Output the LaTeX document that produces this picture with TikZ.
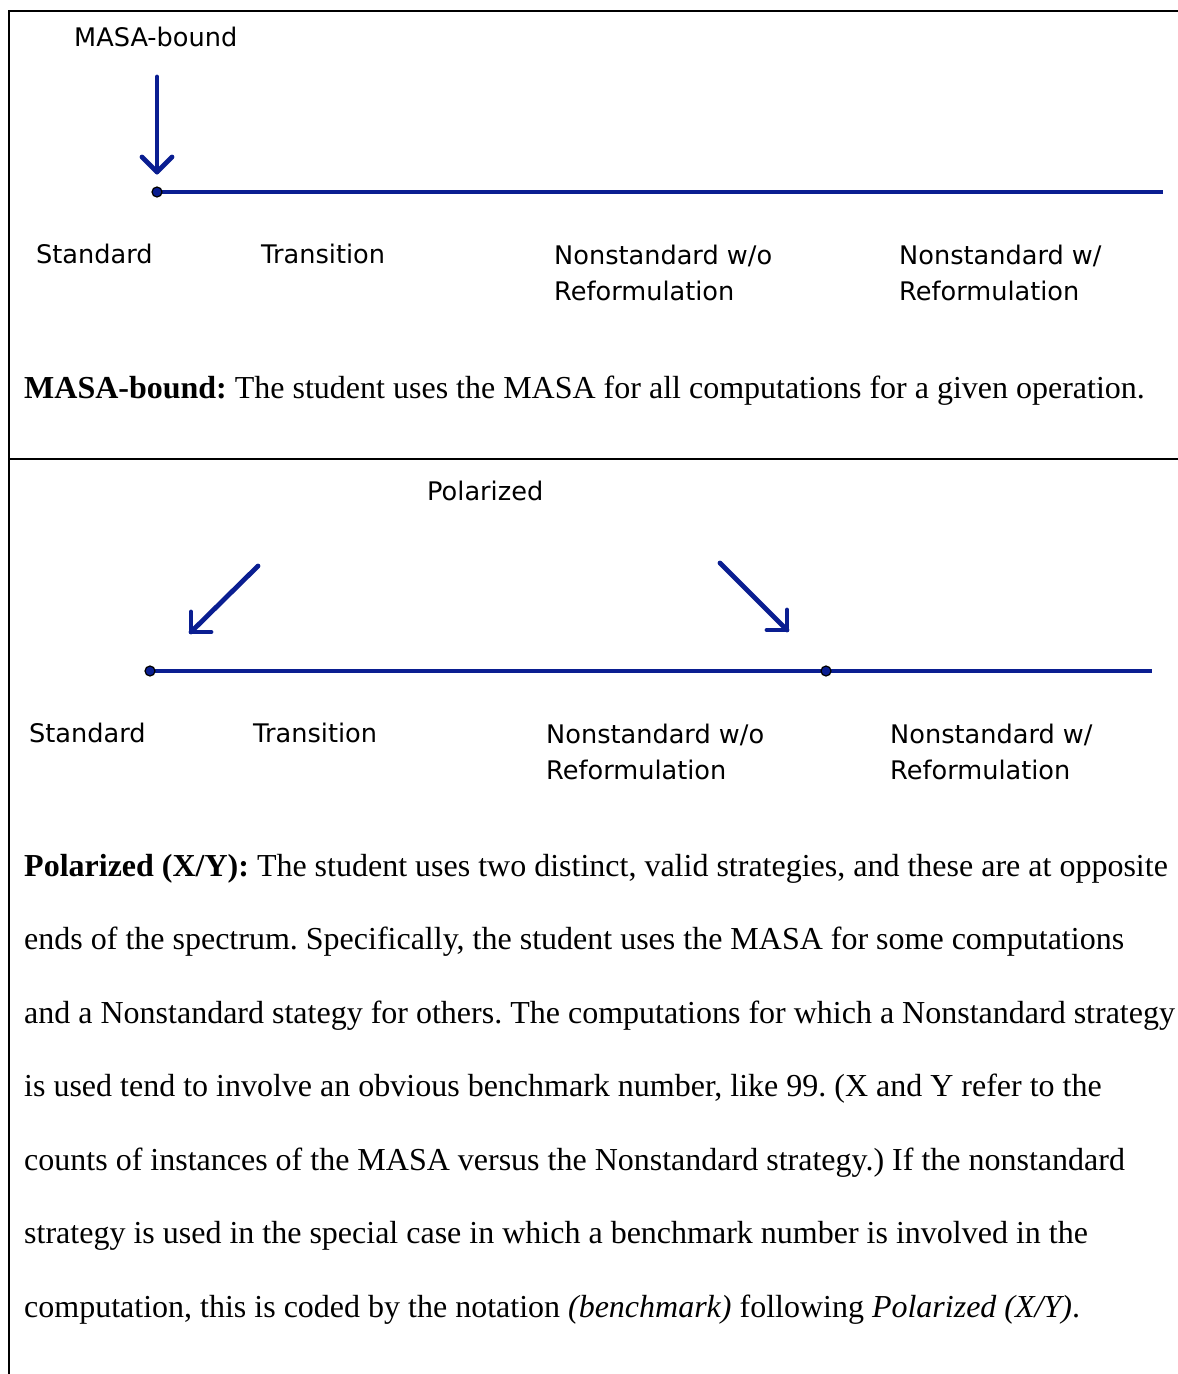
\documentclass[tikz,border=0pt]{standalone}
\usepackage{fontspec}
\setmainfont{Liberation Serif}
\newfontfamily\labelfont{DejaVu Sans}
\usetikzlibrary{calc}
\definecolor{axisblue}{RGB}{10,30,145}
\begin{document}
\frenchspacing
\begin{tikzpicture}[x=1pt,y=-1pt,
  lbl/.style={font=\labelfont\fontsize{25.6}{36}\selectfont, anchor=base west, inner sep=0pt},
  para/.style={font=\fontsize{32}{33}\selectfont, anchor=base west, inner sep=0pt},
  arr/.style={draw=axisblue, line width=4.8pt, line cap=round, line join=round},
  axisline/.style={draw=axisblue, line width=3.5pt},
  dotpt/.style={circle, fill=axisblue, draw=black, line width=1.2pt, minimum size=10pt, inner sep=0pt},
  frame/.style={draw=black, line width=2.3pt}]
\useasboundingbox (0,0) rectangle (1178,1374);
% frame
\coordinate (fbl) at (9,1374);
\coordinate (ftl) at (9,11);
\coordinate (ftr) at (1178,11);
\coordinate (fml) at (9,459);
\coordinate (fmr) at (1178,459);
\draw[frame] (fbl) -- (ftl) -- (ftr);
\draw[frame] (fml) -- (fmr);

% ---------- top diagram ----------
\node[lbl] (mblabel) at (74,46) {MASA-bound};
\coordinate (a0s) at (157,77);
\coordinate (a0t) at (157,172);
\draw[arr] (a0s) -- (a0t);
\draw[arr] ($(a0t)+(-15,-15)$) -- (a0t) -- ($(a0t)+(15,-15)$);
\coordinate (l0s) at (157,192);
\coordinate (l0e) at (1163,192);
\draw[axisline] (l0s) -- (l0e);
\node[dotpt] (d0) at (l0s) {};

\node[lbl] (std0) at (36,263) {Standard};
\node[lbl] (tra0) at (261,263) {Transition};
\node[lbl] (nwo0a) at (554,264) {Nonstandard w/o};
\node[lbl] (nwo0b) at (554,300) {Reformulation};
\node[lbl] (nw0a) at (899,264) {Nonstandard w/};
\node[lbl] (nw0b) at (899,300) {Reformulation};

\node[para] (p0) at (24,398) {\textbf{MASA-bound:} The student uses the MASA for all computations for a given operation.};

% ---------- bottom diagram ----------
\node[lbl] (pollabel) at (427,500) {Polarized};
\coordinate (a1s) at (258,566);
\coordinate (a1t) at (191,632);
\draw[arr] (a1s) -- (a1t);
\draw[arr] ($(a1t)+(0,-20)$) -- (a1t) -- ($(a1t)+(20,0)$);
\coordinate (a2s) at (720,563);
\coordinate (a2t) at (787,630);
\draw[arr] (a2s) -- (a2t);
\draw[arr] ($(a2t)+(0,-20)$) -- (a2t) -- ($(a2t)+(-20,0)$);
\coordinate (l1s) at (150,671);
\coordinate (l1m) at (826,671);
\coordinate (l1e) at (1152,671);
\draw[axisline] (l1s) -- (l1m) -- (l1e);
\node[dotpt] (d1) at (l1s) {};
\node[dotpt] (d2) at (l1m) {};

\node[lbl] (std1) at (29,742) {Standard};
\node[lbl] (tra1) at (253,742) {Transition};
\node[lbl] (nwo1a) at (546,743) {Nonstandard w/o};
\node[lbl] (nwo1b) at (546,779) {Reformulation};
\node[lbl] (nw1a) at (890,743) {Nonstandard w/};
\node[lbl] (nw1b) at (890,779) {Reformulation};

\node[para] (q1) at (24,876) {\textbf{Polarized (X/Y):} The student uses two distinct, valid strategies, and these are at opposite};
\node[para] (q2) at (24,949.5) {ends of the spectrum. Specifically, the student uses the MASA for some computations};
\node[para] (q3) at (24,1023) {and a Nonstandard stategy for others. The computations for which a Nonstandard strategy};
\node[para] (q4) at (24,1096.5) {is used tend to involve an obvious benchmark number, like 99. (X and Y refer to the};
\node[para] (q5) at (24,1170) {counts of instances of the MASA versus the Nonstandard strategy.) If the nonstandard};
\node[para] (q6) at (24,1243.5) {strategy is used in the special case in which a benchmark number is involved in the};
\node[para] (q7) at (24,1317) {computation, this is coded by the notation \textit{(benchmark)} following \textit{Polarized (X/Y)}.};
\end{tikzpicture}
\end{document}
